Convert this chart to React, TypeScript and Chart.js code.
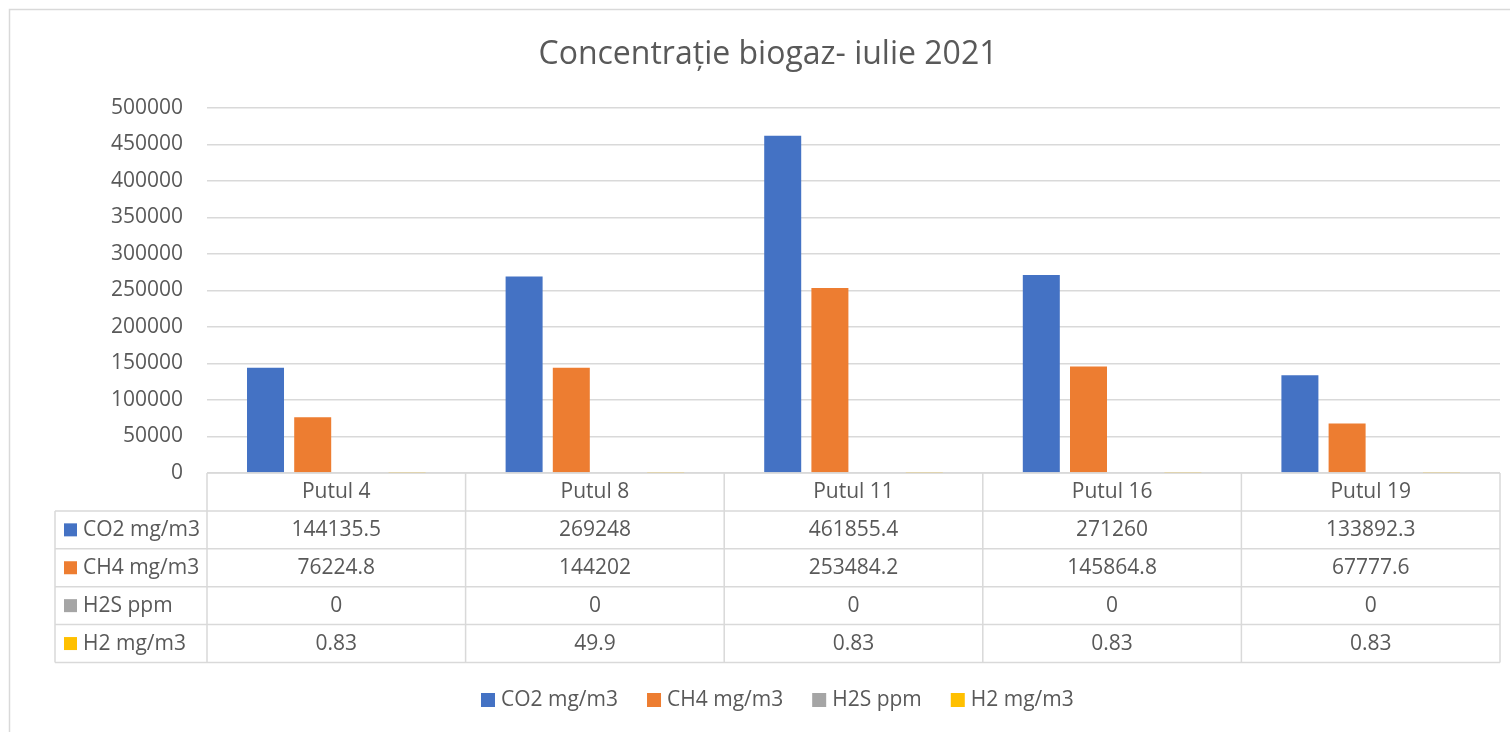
import React, { useEffect, useRef } from "react";
import { Chart, registerables } from "chart.js";

Chart.register(...registerables);

const chartTitle = "Concentrație biogaz- iulie 2021";
const categories = ["Putul 4", "Putul 8", "Putul 11", "Putul 16", "Putul 19"];
const co2Values = [144135.5, 269248, 461855.4, 271260, 133892.3];
const ch4Values = [76224.8, 144202, 253484.2, 145864.8, 67777.6];
const h2sValues = [0, 0, 0, 0, 0];
const h2Values = [0.83, 49.9, 0.83, 0.83, 0.83];
const seriesNames = ["CO2 mg/m3", "CH4 mg/m3", "H2S ppm", "H2 mg/m3"];
const seriesColors = ["#4472C4", "#ED7D31", "#A5A5A5", "#FFC000"];
const seriesValues = [co2Values, ch4Values, h2sValues, h2Values];
const yMin = 0;
const yMax = 500000;
const yStep = 50000;

const FONT = "'Open Sans', 'Liberation Sans', sans-serif";
const TEXT = "#595959";
const LINE = "#d9d9d9";

const framePlugin = {
  id: "frame",
  beforeDraw(chart: any) {
    const ctx = chart.ctx;
    ctx.save();
    ctx.fillStyle = "#ffffff";
    ctx.fillRect(0, 0, chart.width, chart.height);
    ctx.strokeStyle = LINE;
    ctx.lineWidth = 1.5;
    ctx.beginPath();
    ctx.moveTo(9.5, chart.height);
    ctx.lineTo(9.5, 9.5);
    ctx.lineTo(chart.width, 9.5);
    ctx.stroke();
    ctx.restore();
  },
};

const tablePlugin = {
  id: "dataTable",
  afterDraw(chart: any) {
    const ctx = chart.ctx;
    const xs = chart.scales.x;
    const area = chart.chartArea;
    const n = categories.length;
    const colW = (area.right - area.left) / n;
    const top = area.bottom;
    const rowH = 37.9;
    const labelLeft = 55;
    const rows = seriesNames.length;
    const bottom = top + rowH * (rows + 1);
    ctx.save();
    ctx.strokeStyle = LINE;
    ctx.lineWidth = 1.5;
    ctx.beginPath();
    ctx.moveTo(area.left, top);
    ctx.lineTo(area.right, top);
    for (let r = 1; r <= rows + 1; r++) {
      const y = top + r * rowH;
      ctx.moveTo(labelLeft, y);
      ctx.lineTo(area.right, y);
    }
    ctx.moveTo(labelLeft, top + rowH);
    ctx.lineTo(labelLeft, bottom);
    for (let c = 0; c <= n; c++) {
      const x = area.left + c * colW;
      ctx.moveTo(x, top);
      ctx.lineTo(x, bottom);
    }
    ctx.stroke();

    ctx.fillStyle = TEXT;
    ctx.font = `21px ${FONT}`;
    ctx.textBaseline = "middle";
    ctx.textAlign = "center";
    for (let i = 0; i < n; i++) {
      const cx = xs.getPixelForValue(i);
      ctx.fillText(categories[i], cx, top + rowH / 2);
      for (let r = 0; r < rows; r++) {
        ctx.fillText(String(seriesValues[r][i]), cx, top + rowH * (r + 1.5));
      }
    }
    ctx.textAlign = "left";
    for (let r = 0; r < rows; r++) {
      const cy = top + rowH * (r + 1.5);
      ctx.fillStyle = seriesColors[r];
      ctx.fillRect(64, cy - 6.5, 13, 13);
      ctx.fillStyle = TEXT;
      ctx.fillText(seriesNames[r], 83, cy);
    }

    // bottom legend
    ctx.font = `21px ${FONT}`;
    let x = 481;
    const ly = 700;
    for (let r = 0; r < rows; r++) {
      ctx.fillStyle = seriesColors[r];
      ctx.fillRect(x, ly - 7, 14, 14);
      x += 20;
      ctx.fillStyle = TEXT;
      ctx.fillText(seriesNames[r], x, ly);
      x += ctx.measureText(seriesNames[r]).width + 29;
    }
    ctx.restore();
  },
};

export default function App() {
  const canvasRef = useRef<HTMLCanvasElement | null>(null);

  useEffect(() => {
    if (!canvasRef.current) return;
    const chart = new Chart(canvasRef.current, {
      type: "bar",
      data: {
        labels: categories,
        datasets: seriesNames.map((name, i) => ({
          label: name,
          data: seriesValues[i],
          backgroundColor: seriesColors[i],
          borderWidth: 0,
          inflateAmount: 0,
          categoryPercentage: 0.73,
          barPercentage: 0.784,
        })),
      },
      options: {
        responsive: false,
        animation: false,
        devicePixelRatio: 1,
        layout: { padding: { left: 36, right: 10, top: 0, bottom: 0 } },
        plugins: {
          legend: { display: false },
          tooltip: { enabled: false },
          title: {
            display: true,
            text: chartTitle,
            color: TEXT,
            font: { family: FONT, size: 32, weight: "normal" as any, lineHeight: 1.2 },
            padding: { top: 36, bottom: 33.6 },
          },
        },
        scales: {
          x: {
            grid: { display: false },
            border: { display: false },
            ticks: { display: false },
            afterFit(scale: any) {
              scale.height = 259;
            },
          },
          y: {
            min: yMin,
            max: yMax,
            border: { display: false },
            grid: { color: LINE, lineWidth: 1.5, drawTicks: false },
            ticks: {
              stepSize: yStep,
              color: TEXT,
              padding: 24,
              font: { family: FONT, size: 21 },
              callback: (v: any) => String(v),
            },
            afterFit(scale: any) {
              scale.width = 171;
            },
          },
        },
      },
      plugins: [framePlugin, tablePlugin],
    });
    return () => chart.destroy();
  }, []);

  return (
    <div style={{ position: "fixed", left: 0, top: 0, width: 1510, height: 732, background: "#fff" }}>
      <canvas ref={canvasRef} width={1510} height={732} style={{ display: "block", width: 1510, height: 732 }} />
    </div>
  );
}
